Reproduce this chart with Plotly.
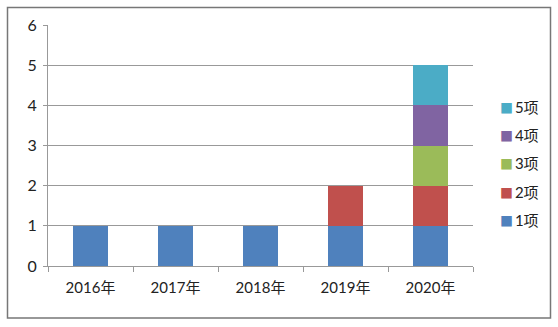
import plotly.graph_objects as go

categories = ["2016年", "2017年", "2018年", "2019年", "2020年"]
series_names = ["1项", "2项", "3项", "4项", "5项"]
s1 = [1, 1, 1, 1, 1]
s2 = [0, 0, 0, 1, 1]
s3 = [0, 0, 0, 0, 1]
s4 = [0, 0, 0, 0, 1]
s5 = [0, 0, 0, 0, 1]
series_values = [s1, s2, s3, s4, s5]
colors = ["#4F81BD", "#C0504D", "#9BBB59", "#8064A2", "#4BACC6"]
y_ticks = [0, 1, 2, 3, 4, 5, 6]

font_family = "Lato, 'Noto Sans CJK SC', 'Liberation Sans', sans-serif"

fig = go.Figure()
for name, vals, col in zip(series_names, series_values, colors):
    fig.add_trace(go.Bar(x=categories, y=vals, name=name, marker_color=col,
                         marker_line_width=0, showlegend=False))

# Legend drawn as annotations (top item is the last series)
legend_y_px = [220, 192, 163, 135, 107]
annotations = []
for name, col, ypx in zip(series_names, colors, legend_y_px):
    annotations.append(dict(
        xref="paper", yref="paper", x=(498 - 48) / 425, y=(266 - ypx) / 241,
        xanchor="left", yanchor="middle", showarrow=False,
        text=f"<span style='color:{col};font-size:13px'>■</span>&#8201;{name}",
        font=dict(size=15, color="#222", family=font_family)))

fig.update_layout(
    width=558, height=327,
    margin=dict(l=48, r=85, t=25, b=61),
    barmode="stack", bargap=0.58,
    paper_bgcolor="white", plot_bgcolor="white",
    font=dict(family=font_family, size=15, color="#222"),
    showlegend=False,
    annotations=annotations,
    xaxis=dict(showline=True, linecolor="#999", linewidth=1,
               ticks="outside", tickson="boundaries", ticklen=5, tickcolor="#999",
               ticklabelstandoff=8, tickfont=dict(size=15)),
    yaxis=dict(range=[0, 6], tickvals=y_ticks, showgrid=True, gridcolor="#999",
               gridwidth=1, showline=True, linecolor="#999", linewidth=1,
               ticks="outside", ticklen=4, tickcolor="#999", zeroline=False,
               ticklabelstandoff=3, tickfont=dict(size=16)),
    shapes=[dict(type="rect", xref="paper", yref="paper",
                 x0=(7.5 - 48) / 425, x1=(550.5 - 48) / 425,
                 y0=(266 - 318) / 241, y1=(266 - 7.5) / 241,
                 line=dict(color="#777", width=1.5), layer="below")],
)

fig.write_html("out.html")
